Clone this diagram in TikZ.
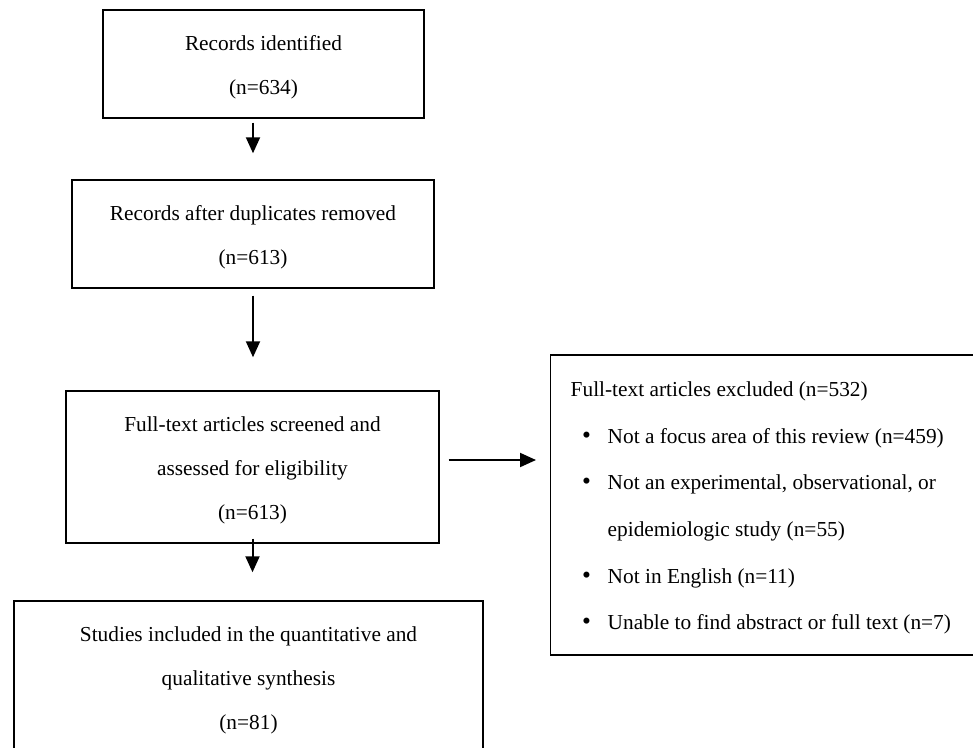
\documentclass[tikz,border=0pt]{standalone}
\usepackage{fontspec}
\setmainfont{Liberation Serif}
\usetikzlibrary{arrows.meta}

\newcommand{\exbullet}{\makebox[27.75pt][l]{\hspace{8.5pt}{\fontsize{19pt}{35pt}\selectfont\textbullet}}}
\newcommand{\topstrut}{\rule{0pt}{15.5pt}}

\begin{document}
\begin{tikzpicture}[
    x=0.75pt, y=-0.75pt,
    every node/.style = {font=\fontsize{16pt}{33pt}\selectfont},
    flowbox/.style    = {draw, line width=1.1pt, align=center, inner sep=0pt},
    exbox/.style      = {draw, line width=1.1pt, align=flush left, inner xsep=15pt,
                         text width=305pt, font=\fontsize{16pt}{35pt}\selectfont},
    arr/.style        = {line width=1.5pt, -{Triangle[length=12pt,width=10.5pt]}}
    ]
      \clip (0,0) rectangle (973,747);
      % boxes ----------------------------------------------------
      \node[flowbox, minimum width=240.75pt, minimum height=81pt]  (rec) at (263.5,64)
            {\topstrut Records identified\\(n=634)};
      \node[flowbox, minimum width=271.5pt, minimum height=81pt]   (dup) at (253,234)
            {\topstrut Records after duplicates removed\\(n=613)};
      \node[flowbox, minimum width=279.75pt, minimum height=114pt] (scr) at (252.5,467)
            {\topstrut Full-text articles screened and\\assessed for eligibility\\(n=613)};
      \node[flowbox, minimum width=351.75pt, minimum height=114pt] (inc) at (248.5,677)
            {\topstrut Studies included in the quantitative and\\qualitative synthesis\\(n=81)};
      \node[exbox, minimum height=225pt, anchor=west]            (exc) at (550,505)
            {\topstrut Full-text articles excluded (n=532)\\
             \exbullet Not a focus area of this review (n=459)\\
             \exbullet Not an experimental, observational, or\\
             \hspace*{27.75pt}epidemiologic study (n=55)\\
             \exbullet Not in English (n=11)\\
             \exbullet Unable to find abstract or full text (n=7)};

      % arrows ---------------------------------------------------
      \draw[arr, shorten <=3pt, shorten >=19.5pt] (dup.north |- rec.south) -- (dup.north);
      \draw[arr, shorten <=5.25pt, shorten >=24.75pt] (dup.south) -- (dup.south |- scr.north);
      \draw[arr, shorten <=-3.75pt, shorten >=21pt] (scr.south) -- (scr.south |- inc.north);
      \draw[arr, shorten <=6.75pt, shorten >=10.5pt] ([yshift=5.25pt]scr.east) -- ([yshift=5.25pt]scr.east -| exc.west);
\end{tikzpicture}
\end{document}
